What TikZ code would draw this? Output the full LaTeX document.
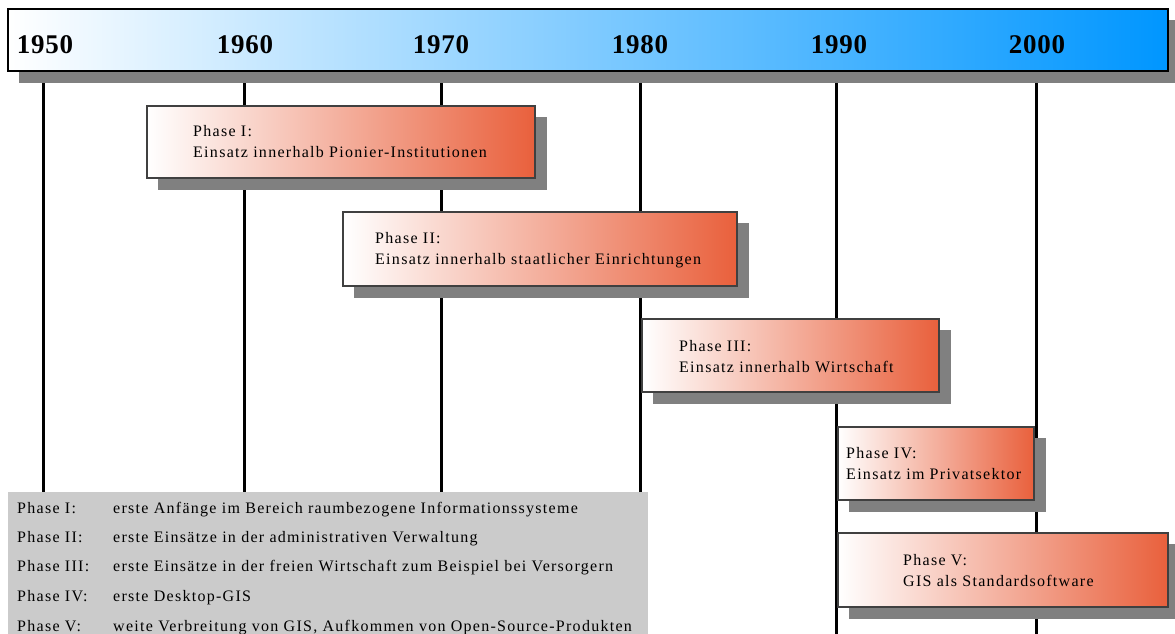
\documentclass[tikz,border=0pt]{standalone}
\usepackage{fontspec}
\setmainfont{Liberation Serif}
\newfontfamily\widefont[LetterSpace=8]{Liberation Serif}
\newfontfamily\yearfont[LetterSpace=3]{Liberation Serif}
\definecolor{barblue}{RGB}{0,150,255}
\definecolor{phasered}{RGB}{233,96,60}
\definecolor{legendgray}{RGB}{203,203,203}
\definecolor{shadowgray}{RGB}{128,128,128}
\begin{document}
\begin{tikzpicture}[x=1pt,y=-1pt,
    year/.style={font=\yearfont\fontsize{27}{29}\selectfont\bfseries, inner sep=0pt},
    tick/.style={line width=3pt},
    phase/.style={draw=black!75, line width=1.2pt, left color=white, right color=phasered},
    shadowbox/.style={fill=shadowgray},
    phasetext/.style={anchor=west, align=left, inner sep=0pt, font=\widefont\fontsize{16}{21}\selectfont},
    legendtext/.style={anchor=base west, inner sep=0pt, font=\widefont\fontsize{16}{18}\selectfont}]
\useasboundingbox (0,0) rectangle (1175,634);

% time bar
\fill[shadowbox] (19,20) rectangle (1175,83);
\draw[line width=1.2pt, left color=white, right color=barblue] (8,9) rectangle (1168,71);
\node[year] (y1950) at (45,45) {1950};
\node[year] (y1960) at (245,45) {1960};
\node[year] (y1970) at (441,45) {1970};
\node[year] (y1980) at (640,45) {1980};
\node[year] (y1990) at (839,45) {1990};
\node[year] (y2000) at (1037,45) {2000};

% decade lines
\foreach \x in {43,244,441,640,836,1036}
    \draw[tick] (\x,83) -- (\x,634);

% phases
\fill[shadowbox] (158,117) rectangle (547,190);
\draw[phase] (147,106) rectangle (535,178);
\node[phasetext] (p1) at (193,142) {Phase I:\\Einsatz innerhalb Pionier-Institutionen};

\fill[shadowbox] (354,223) rectangle (749,298);
\draw[phase] (343,212) rectangle (737,286);
\node[phasetext] (p2) at (375,250) {Phase II:\\Einsatz innerhalb staatlicher Einrichtungen};

\fill[shadowbox] (653,330) rectangle (951,404);
\draw[phase] (642,319) rectangle (939,392);
\node[phasetext] (p3) at (679,356.5) {Phase III:\\Einsatz innerhalb Wirtschaft};

\fill[shadowbox] (849,438) rectangle (1046,512);
\draw[phase] (838,427) rectangle (1034,500);
\node[phasetext] (p4) at (846,463.5) {Phase IV:\\Einsatz im Privatsektor};

\fill[shadowbox] (849,544) rectangle (1175,619);
\draw[phase] (838,533) rectangle (1168,607);
\node[phasetext] (p5) at (903,570.5) {Phase V:\\GIS als Standardsoftware};

% legend
\fill[legendgray] (8,492) rectangle (648,634);
\node[legendtext] (l1) at (17,513) {Phase I:};
\node[legendtext] (d1) at (113,513) {erste Anfänge im Bereich raumbezogene Informationssysteme};
\node[legendtext] (l2) at (17,542) {Phase II:};
\node[legendtext] (d2) at (113,542) {erste Einsätze in der administrativen Verwaltung};
\node[legendtext] (l3) at (17,571) {Phase III:};
\node[legendtext] (d3) at (113,571) {erste Einsätze in der freien Wirtschaft zum Beispiel bei Versorgern};
\node[legendtext] (l4) at (17,601) {Phase IV:};
\node[legendtext] (d4) at (113,601) {erste Desktop-GIS};
\node[legendtext] (l5) at (17,631) {Phase V:};
\node[legendtext] (d5) at (113,631) {weite Verbreitung von GIS, Aufkommen von Open-Source-Produkten};
\end{tikzpicture}
\end{document}
